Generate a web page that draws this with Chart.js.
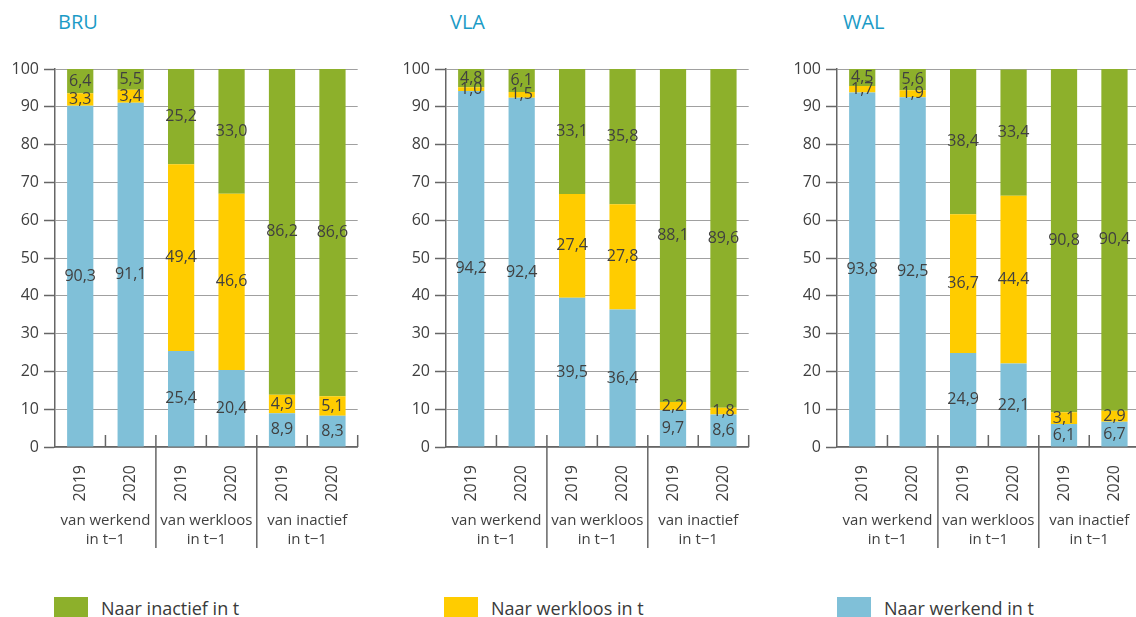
<!DOCTYPE html>
<html>
<head>
<meta charset="utf-8">
<script src="https://cdn.jsdelivr.net/npm/chart.js@4"></script>
<style>
  body { margin: 0; background: #fff; font-family: 'Open Sans', sans-serif; }
  #wrap { position: relative; width: 1136px; height: 617px; overflow: hidden; }
  .panel { position: absolute; top: 40px; width: 362px; height: 520px; }
  .title { position: absolute; top: 8px; font-size: 20px; color: #1b9bc6; }
  .legend { position: absolute; top: 596px; display: flex; align-items: center; font-size: 18px; color: #3a3a3a; }
  .legend span.sw { display: inline-block; width: 34px; height: 22px; margin-right: 13px; }
</style>
</head>
<body>
<div id="wrap">
  <div class="title" style="left:58px">BRU</div>
  <div class="title" style="left:450px">VLA</div>
  <div class="title" style="left:843px">WAL</div>
  <div class="panel" style="left:0px"><canvas id="bru"></canvas></div>
  <div class="panel" style="left:391px"><canvas id="vla"></canvas></div>
  <div class="panel" style="left:782px"><canvas id="wal"></canvas></div>
  <div class="legend" style="left:54px"><span class="sw" style="background:#8db02b"></span>Naar inactief in t</div>
  <div class="legend" style="left:444px"><span class="sw" style="background:#ffcc00"></span>Naar werkloos in t</div>
  <div class="legend" style="left:837px"><span class="sw" style="background:#80c0d8"></span>Naar werkend in t</div>
</div>
<script>
// Data
const years = ['2019', '2020', '2019', '2020', '2019', '2020'];
const groups = [['van werkend', 'in t\u22121'], ['van werkloos', 'in t\u22121'], ['van inactief', 'in t\u22121']];
const yTicks = [0, 10, 20, 30, 40, 50, 60, 70, 80, 90, 100];

const bruWerkend  = [90.3, 91.1, 25.4, 20.4, 8.9, 8.3];
const bruWerkloos = [3.3, 3.4, 49.4, 46.6, 4.9, 5.1];
const bruInactief = [6.4, 5.5, 25.2, 33.0, 86.2, 86.6];

const vlaWerkend  = [94.2, 92.4, 39.5, 36.4, 9.7, 8.6];
const vlaWerkloos = [1.0, 1.5, 27.4, 27.8, 2.2, 1.8];
const vlaInactief = [4.8, 6.1, 33.1, 35.8, 88.1, 89.6];

const walWerkend  = [93.8, 92.5, 24.9, 22.1, 6.1, 6.7];
const walWerkloos = [1.7, 1.9, 36.7, 44.4, 3.1, 2.9];
const walInactief = [4.5, 5.6, 38.4, 33.4, 90.8, 90.4];

const BLUE = '#80c0d8', YELLOW = '#ffcc00', GREEN = '#8db02b';
const INK = '#404040', AXIS = '#666';
const FONT = "'Open Sans', sans-serif";

// value labels in the middle of every segment
const segmentLabels = {
    id: 'segmentLabels',
    afterDatasetsDraw(chart) {
        const ctx = chart.ctx;
        ctx.save();
        ctx.font = '16px ' + FONT;
        ctx.fillStyle = INK;
        ctx.textAlign = 'center';
        ctx.textBaseline = 'middle';
        chart.data.datasets.forEach((ds, i) => {
            chart.getDatasetMeta(i).data.forEach((bar, j) => {
                const p = bar.getProps(['x', 'y', 'base'], true);
                ctx.fillText(ds.data[j].toFixed(1).replace('.', ','), p.x, (p.y + p.base) / 2);
            });
        });
        ctx.restore();
    }
};

// x-axis ticks, group separators and group labels
const groupAxis = {
    id: 'groupAxis',
    afterDraw(chart) {
        const ctx = chart.ctx;
        const x = chart.scales.x;
        const bottom = chart.chartArea.bottom;
        const step = x.getPixelForValue(1) - x.getPixelForValue(0);
        ctx.save();
        ctx.strokeStyle = AXIS;
        ctx.lineWidth = 1.5;
        for (let i = 0; i < years.length; i++) {
            const bx = x.getPixelForValue(i) + step / 2;
            const isSep = i % 2 === 1 && i < years.length - 1;
            ctx.beginPath();
            ctx.moveTo(bx, bottom - 12);
            ctx.lineTo(bx, isSep ? bottom + 101 : bottom);
            ctx.stroke();
        }
        ctx.font = '15px ' + FONT;
        ctx.fillStyle = INK;
        ctx.textAlign = 'center';
        ctx.textBaseline = 'middle';
        groups.forEach((g, k) => {
            const gx = (x.getPixelForValue(2 * k) + x.getPixelForValue(2 * k + 1)) / 2;
            ctx.fillText(g[0], gx, bottom + 74);
            ctx.fillText(g[1], gx, bottom + 93);
        });
        ctx.restore();
    }
};

function makeChart(id, werkend, werkloos, inactief) {
    new Chart(document.getElementById(id), {
        type: 'bar',
        data: {
            labels: years,
            datasets: [
                { label: 'Naar werkend in t', data: werkend, backgroundColor: BLUE },
                { label: 'Naar werkloos in t', data: werkloos, backgroundColor: YELLOW },
                { label: 'Naar inactief in t', data: inactief, backgroundColor: GREEN }
            ]
        },
        options: {
            responsive: true,
            maintainAspectRatio: false,
            animation: false,
            categoryPercentage: 1,
            barPercentage: 0.52,
            layout: { padding: { top: 29, right: 4, left: 0, bottom: 0 } },
            plugins: { legend: { display: false }, tooltip: { enabled: false } },
            scales: {
                x: {
                    stacked: true,
                    afterFit: s => { s.height = 113; },
                    grid: { display: false },
                    border: { color: AXIS, width: 1.5 },
                    ticks: {
                        color: INK, font: { family: FONT, size: 16 },
                        maxRotation: 90, minRotation: 90, padding: 10
                    }
                },
                y: {
                    stacked: true,
                    min: 0, max: 100,
                    afterFit: s => { s.width = 55; },
                    afterBuildTicks: s => { s.ticks = yTicks.map(v => ({ value: v })); },
                    border: { color: AXIS, width: 1.5 },
                    grid: {
                        color: '#a0a0a0', lineWidth: 1, borderDash: [1, 5],
                        tickColor: AXIS, tickWidth: 1.5, tickBorderDash: [], tickLength: 11,
                        drawOnChartArea: true
                    },
                    ticks: { color: INK, font: { family: FONT, size: 16 }, padding: 5 }
                }
            }
        },
        plugins: [segmentLabels, groupAxis]
    });
}

makeChart('bru', bruWerkend, bruWerkloos, bruInactief);
makeChart('vla', vlaWerkend, vlaWerkloos, vlaInactief);
makeChart('wal', walWerkend, walWerkloos, walInactief);
</script>
</body>
</html>
